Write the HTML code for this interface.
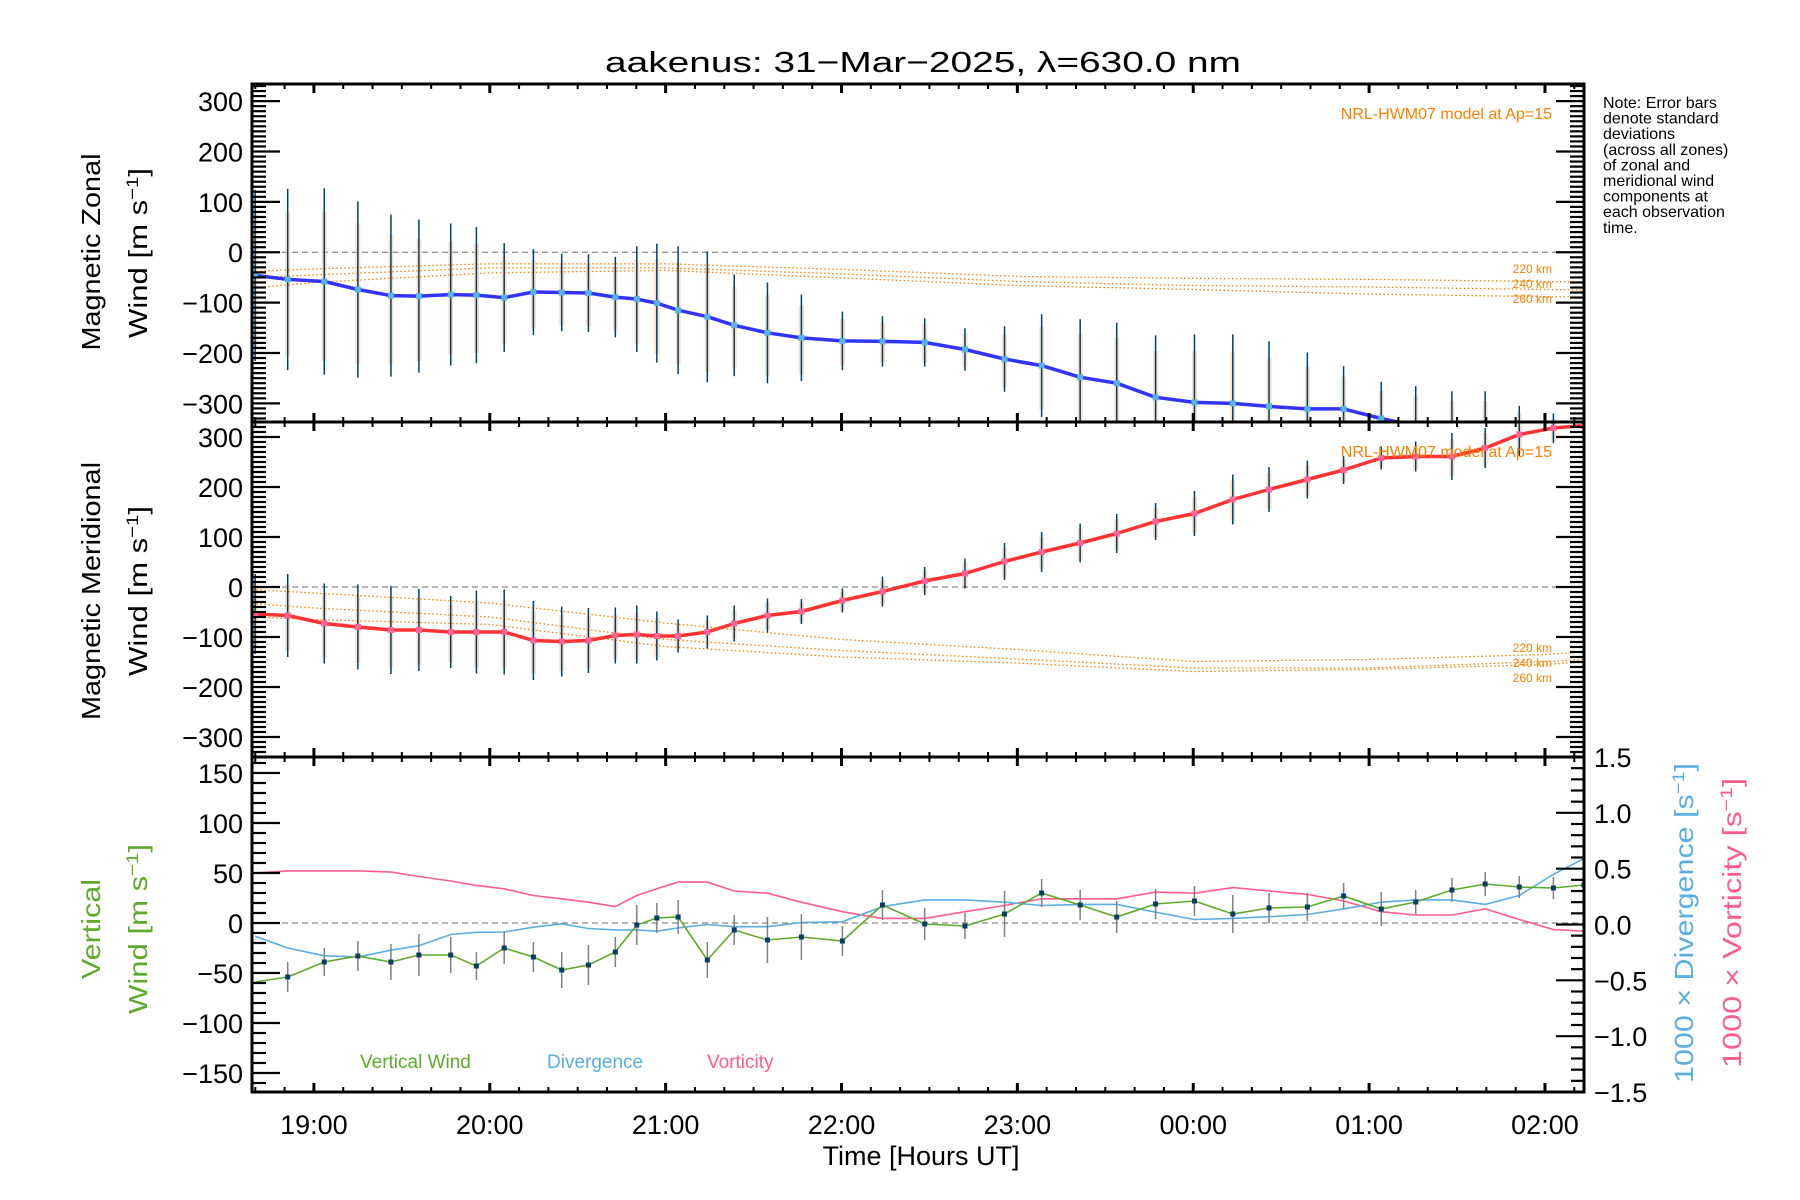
<!DOCTYPE html>
<html><head><meta charset="utf-8"><title>aakenus 31-Mar-2025</title>
<style>
html,body{margin:0;padding:0;background:#fff;}
svg{display:block;font-family:"Liberation Sans",sans-serif;}
</style></head>
<body>
<svg id="chart" width="1800" height="1200" viewBox="0 0 1800 1200" xmlns="http://www.w3.org/2000/svg">
<rect x="0" y="0" width="1800" height="1200" fill="#fff"/>
<text x="923" y="72" text-anchor="middle" font-size="29" textLength="636" lengthAdjust="spacingAndGlyphs">aakenus: 31−Mar−2025, λ=630.0 nm</text>
<g id="layer"></g>
</svg>
<script>
// ---- data ----
const times = [18.666,18.851,19.059,19.250,19.438,19.597,19.778,19.924,20.082,20.248,20.409,20.561,20.714,20.836,20.950,21.071,21.237,21.390,21.579,21.772,22.005,22.233,22.473,22.702,22.927,23.138,23.357,23.565,23.786,24.007,24.225,24.431,24.649,24.855,25.069,25.265,25.471,25.660,25.854,26.048,26.222];
const zonal = [-46,-54,-58,-74,-86,-87,-84,-85,-90,-79,-80,-81,-89,-93,-101,-115,-128,-145,-160,-170,-176,-177,-179,-193,-212,-225,-248,-260,-288,-298,-300,-306,-311,-311,-330,-345,-350,-355,-360,-365,-370];
const zonalStd = [170,180,185,175,161,152,141,135,108,85,77,77,80,105,118,127,130,101,100,86,58,50,48,42,65,102,115,120,123,135,137,129,112,85,73,79,74,79,55,45,45];
const merid = [-54,-57,-73,-80,-86,-86,-90,-90,-90,-107,-109,-107,-97,-95,-98,-98,-90,-73,-57,-49,-27,-9,12,27,51,70,88,107,131,147,175,195,215,234,258,261,261,278,305,318,323];
const meridStd = [80,83,80,85,88,82,72,83,85,79,70,65,56,58,49,33,33,36,34,25,24,30,28,30,37,40,39,39,37,45,50,45,38,28,23,30,47,40,43,30,30];
const vert = [-59,-54,-39,-33,-39,-32,-32,-43,-25,-34,-47,-42,-29,-2,5,6,-37,-7,-17,-14,-18,18,-1,-3,9,30,18,6,19,22,9,15,16,27,14,21,33,39,36,35,38];
const vertStd = [15,15,14,15,18,21,18,14,16,15,18,20,15,20,15,17,18,15,23,23,15,15,16,13,23,14,15,16,15,15,19,15,14,13,17,12,12,12,11,11,11];
const diverg = [-0.106,-0.21,-0.28,-0.29,-0.23,-0.19,-0.09,-0.07,-0.067,-0.024,0.006,-0.036,-0.048,-0.048,-0.06,-0.03,0,-0.02,-0.02,0.018,0.024,0.16,0.22,0.22,0.2,0.17,0.18,0.18,0.11,0.045,0.055,0.07,0.09,0.14,0.2,0.22,0.22,0.18,0.26,0.45,0.59];
const vortic = [0.46,0.48,0.48,0.48,0.47,0.43,0.39,0.35,0.32,0.26,0.23,0.2,0.16,0.26,0.32,0.38,0.38,0.3,0.28,0.2,0.115,0.055,0.055,0.115,0.17,0.23,0.23,0.23,0.29,0.28,0.33,0.3,0.27,0.21,0.115,0.085,0.085,0.14,0.045,-0.045,-0.06];
const modelTimes = [18.65,19,20,21,22,23,24,25,26,26.22];
const zonal220 = [-38,-33,-23,-23,-34,-48,-52,-54,-58,-59];
const zonal240 = [-51,-45,-31,-31,-43,-58,-66,-69,-74,-75];
const zonal260 = [-71,-60,-41,-36,-51,-66,-74,-83,-88,-89];
const merid220 = [-5,-12,-32,-72,-105,-125,-149,-145,-135,-130];
const merid240 = [-33,-42,-60,-105,-127,-144,-162,-162,-149,-145];
const merid260 = [-60,-65,-75,-119,-140,-152,-169,-165,-155,-150];
const hourLabels = ["19:00","20:00","21:00","22:00","23:00","00:00","01:00","02:00"];
const hourTicks = [19,20,21,22,23,24,25,26];
const windTicks = [-300,-200,-100,0,100,200,300];
const vertTicks = [-150,-100,-50,0,50,100,150];
const rightTicks = [-1.5,-1.0,-0.5,0.0,0.5,1.0,1.5];

// ---- layout ----
const NS = "http://www.w3.org/2000/svg";
const L = 252, R = 1584;
const H0 = 18.648, H1 = 26.222;
const P1 = {top:84, bot:422, min:-337, max:334};
const P2 = {top:422, bot:757, min:-340, max:330};
const P3 = {top:757, bot:1092, min:-169, max:166};
const P3R = {top:757, bot:1092, min:-1.5, max:1.5};
const layer = document.getElementById('layer');
function xs(h){ return L + (h - H0) / (H1 - H0) * (R - L); }
function ys(p, v){ return p.bot - (v - p.min) / (p.max - p.min) * (p.bot - p.top); }
function el(tag, attrs, parent){
  const e = document.createElementNS(NS, tag);
  for (const k in attrs) e.setAttribute(k, attrs[k]);
  (parent || layer).appendChild(e);
  return e;
}
function txt(s, attrs, parent){ const e = el('text', attrs, parent); e.textContent = s; return e; }

const defs = el('defs', {});
[P1, P2, P3].forEach((p, i) => {
  const c = el('clipPath', {id:'clip' + i}, defs);
  el('rect', {x:L, y:p.top, width:R - L, height:p.bot - p.top}, c);
});

function polyline(p, xsArr, ysArr, attrs, parent){
  const pts = xsArr.map((h, i) => xs(h).toFixed(1) + ',' + ys(p, ysArr[i]).toFixed(1)).join(' ');
  return el('polyline', Object.assign({points:pts, fill:'none'}, attrs), parent);
}

function windPanel(p, idx, mean, std, lineColor, dotColor, m220, m240, m260, pname){
  const g = el('g', {'clip-path':'url(#clip' + idx + ')'});
  
  
  const z = el('line', {x1:L, x2:R, y1:ys(p,0), y2:ys(p,0), stroke:'#888', 'stroke-width':1.3, 'stroke-dasharray':'6,4'}, g);
  
  
  times.forEach((h, i) => {
    const b = el('rect', {x:xs(h) - 2.5, y:ys(p, mean[i] + std[i] * 0.75), width:5, height:Math.abs(ys(p, mean[i] - std[i] * 0.85) - ys(p, mean[i] + std[i] * 0.75)), fill:'#f9c9a8', opacity:0.6}, g);
    
    
  });
  [[m220,'220'],[m240,'240'],[m260,'260']].forEach(([arr, k]) => {
    const ml = polyline(p, modelTimes, arr, {stroke:'#ff8000', 'stroke-width':1.3, 'stroke-dasharray':'1.5,2.5'}, g);
    
    
  });
  times.forEach((h, i) => {
    const e = el('line', {x1:xs(h), x2:xs(h), y1:ys(p, mean[i] + std[i]), y2:ys(p, mean[i] - std[i]), stroke:'#003f66', 'stroke-width':1.5}, g);
    
    
  });
  const ln = polyline(p, times, mean, {stroke:lineColor, 'stroke-width':3.5, 'stroke-linejoin':'round'}, g);
  
  
  times.forEach((h, i) => {
    const d = el('rect', {x:xs(h) - 3, y:ys(p, mean[i]) - 3, width:6, height:6, fill:dotColor}, g);
    
    
  });
}
windPanel(P1, 0, zonal, zonalStd, '#3333ff', '#5ab4e0', zonal220, zonal240, zonal260, 'zonal');
windPanel(P2, 1, merid, meridStd, '#ff3333', '#ff6699', merid220, merid240, merid260, 'meridional');

(function(){
  const g = el('g', {'clip-path':'url(#clip2)'});
  
  
  const z = el('line', {x1:L, x2:R, y1:ys(P3,0), y2:ys(P3,0), stroke:'#888', 'stroke-width':1.3, 'stroke-dasharray':'6,4'}, g);
  
  
  const vo = polyline(P3R, times, vortic, {stroke:'#ff5c8d', 'stroke-width':1.6}, g);
  
  
  const dv = polyline(P3R, times, diverg, {stroke:'#5aaee0', 'stroke-width':1.6}, g);
  
  
  times.forEach((h, i) => {
    if (i === 0) return;
    const e = el('line', {x1:xs(h), x2:xs(h), y1:ys(P3, vert[i] + vertStd[i]), y2:ys(P3, vert[i] - vertStd[i]), stroke:'#808080', 'stroke-width':1.5}, g);
    
    
  });
  const vl = polyline(P3, times, vert, {stroke:'#5faa2a', 'stroke-width':1.6}, g);
  
  
  times.forEach((h, i) => {
    if (i === 0) return;
    const d = el('rect', {x:xs(h) - 2.5, y:ys(P3, vert[i]) - 2.5, width:5, height:5, fill:'#0a3d66'}, g);
    
    
  });
})();

const axisG = el('g', {});


[P1, P2, P3].forEach((p, idx) => {
  const fr = el('rect', {x:L, y:p.top, width:R - L, height:p.bot - p.top, fill:'none', stroke:'#000', 'stroke-width':3}, axisG);
  
  
  for (let m = Math.ceil(H0 * 6); m <= Math.floor(H1 * 6); m++) {
    const h = m / 6, major = (m % 6 === 0);
    const len = major ? 9 : 5;
    el('line', {x1:xs(h), x2:xs(h), y1:p.bot, y2:p.bot - len, stroke:'#000', 'stroke-width':major ? 3 : 2}, axisG);
    el('line', {x1:xs(h), x2:xs(h), y1:p.top, y2:p.top + len, stroke:'#000', 'stroke-width':major ? 3 : 2}, axisG);
  }
});
function yTicks(p, step, majorStep, side, majLen, minLen){
  const start = Math.ceil(p.min / step), end = Math.floor(p.max / step);
  for (let k = start; k <= end; k++) {
    const v = k * step;
    const major = Math.abs(v / majorStep - Math.round(v / majorStep)) < 1e-6;
    const len = major ? majLen : minLen;
    const y = ys(p, v);
    const x0 = side === 'L' ? L : R;
    const x1 = side === 'L' ? L + len : R - len;
    el('line', {x1:x0, x2:x1, y1:y, y2:y, stroke:'#000', 'stroke-width':2.2}, axisG);
  }
}
[P1, P2].forEach(p => { yTicks(p, 10, 100, 'L', 28, 14); yTicks(p, 10, 100, 'R', 28, 14); });
yTicks(P3, 10, 50, 'L', 28, 14);
yTicks(P3R, 0.1, 0.5, 'R', 28, 13);

const labG = el('g', {'font-size':27});


[P1, P2].forEach((p, idx) => {
  windTicks.forEach(v => {
    const t = txt(String(v).replace('-', '−'), {x:243, y:ys(p, v) + 10, 'text-anchor':'end'}, labG);
    
    
  });
});
vertTicks.forEach(v => {
  const t = txt(String(v).replace('-', '−'), {x:243, y:ys(P3, v) + 10, 'text-anchor':'end'}, labG);
  
  
});
rightTicks.forEach(v => {
  const t = txt((v < 0 ? '−' : '') + Math.abs(v).toFixed(1), {x:1594, y:ys(P3R, v) + 10, 'text-anchor':'start'}, labG);
  
  
});
hourTicks.forEach((h, i) => {
  const t = txt(hourLabels[i], {x:xs(h), y:1134, 'text-anchor':'middle'}, labG);
  
  
});
</script>

<script>
(function(){
  const svg = document.getElementById('chart');
  const NS = "http://www.w3.org/2000/svg";
  function T(s, attrs, name){
    const e = document.createElementNS(NS, 'text');
    for (const k in attrs) e.setAttribute(k, attrs[k]);
    e.textContent = s;
    
    
    svg.appendChild(e);
    return e;
  }
  function Rt(parts, x, y, color, size, name, len){
    const e = document.createElementNS(NS, 'text');
    e.setAttribute('x', 0); e.setAttribute('y', 0);
    e.setAttribute('font-size', size); e.setAttribute('fill', color);
    e.setAttribute('text-anchor', 'middle');
    e.setAttribute('transform', 'translate(' + x + ',' + y + ') rotate(-90)');
    if (len) { e.setAttribute('textLength', len); e.setAttribute('lengthAdjust', 'spacingAndGlyphs'); }
    parts.forEach(p => {
      const ts = document.createElementNS(NS, 'tspan');
      ts.textContent = p[0];
      if (p[1]) { ts.setAttribute('dy', p[1]); }
      if (p[2]) ts.setAttribute('font-size', p[2]);
      e.appendChild(ts);
    });
    
    
    svg.appendChild(e);
  }
  T('Time [Hours UT]', {x:921, y:1165, 'font-size':27, 'text-anchor':'middle'}, 'x-axis-title');
  Rt([['Magnetic Zonal']], 100, 252, '#000', 26, 'zonal-y-axis-title', 197);
  Rt([['Wind [m s'],['−1','-9',17],[']','9']], 147, 253, '#000', 26, 'zonal-y-axis-units', 170);
  Rt([['Magnetic Meridional']], 100, 591, '#000', 26, 'meridional-y-axis-title', 258);
  Rt([['Wind [m s'],['−1','-9',17],[']','9']], 147, 591, '#000', 26, 'meridional-y-axis-units', 170);
  Rt([['Vertical']], 100, 929, '#5faa2a', 26, 'vertical-y-axis-title', 100);
  Rt([['Wind [m s'],['−1','-9',17],[']','9']], 147, 929, '#5faa2a', 26, 'vertical-y-axis-units', 170);
  Rt([['1000 × Divergence [s'],['−1','-9',17],[']','9']], 1693, 923, '#5aaee0', 26, 'divergence-axis-title', 320);
  Rt([['1000 × Vorticity [s'],['−1','-9',17],[']','9']], 1741, 923, '#ff5c8d', 26, 'vorticity-axis-title', 290);
  const note = ['Note: Error bars','denote standard','deviations','(across all zones)','of zonal and','meridional wind','components at','each observation','time.'];
  note.forEach((s, i) => T(s, {x:1603, y:108 + i * 15.6, 'font-size':16}, 'note-line'));
  T('NRL-HWM07 model at Ap=15', {x:1552, y:119, 'font-size':16, fill:'#ff8000', 'text-anchor':'end'}, 'zonal-model-label');
  T('NRL-HWM07 model at Ap=15', {x:1552, y:457, 'font-size':16, fill:'#ff8000', 'text-anchor':'end'}, 'meridional-model-label');
  [['220 km',273],['240 km',288],['260 km',303]].forEach(a => T(a[0], {x:1552, y:a[1], 'font-size':12, fill:'#ff8000', 'text-anchor':'end'}, 'zonal-altitude-label'));
  [['220 km',652],['240 km',667],['260 km',682]].forEach(a => T(a[0], {x:1552, y:a[1], 'font-size':12, fill:'#ff8000', 'text-anchor':'end'}, 'meridional-altitude-label'));
  T('Vertical Wind', {x:360, y:1068, 'font-size':19, fill:'#5faa2a'}, 'legend-vertical-wind');
  T('Divergence', {x:547, y:1068, 'font-size':19, fill:'#5aaee0'}, 'legend-divergence');
  T('Vorticity', {x:707, y:1068, 'font-size':19, fill:'#ff5c8d'}, 'legend-vorticity');
})();
</script>
</body></html>
